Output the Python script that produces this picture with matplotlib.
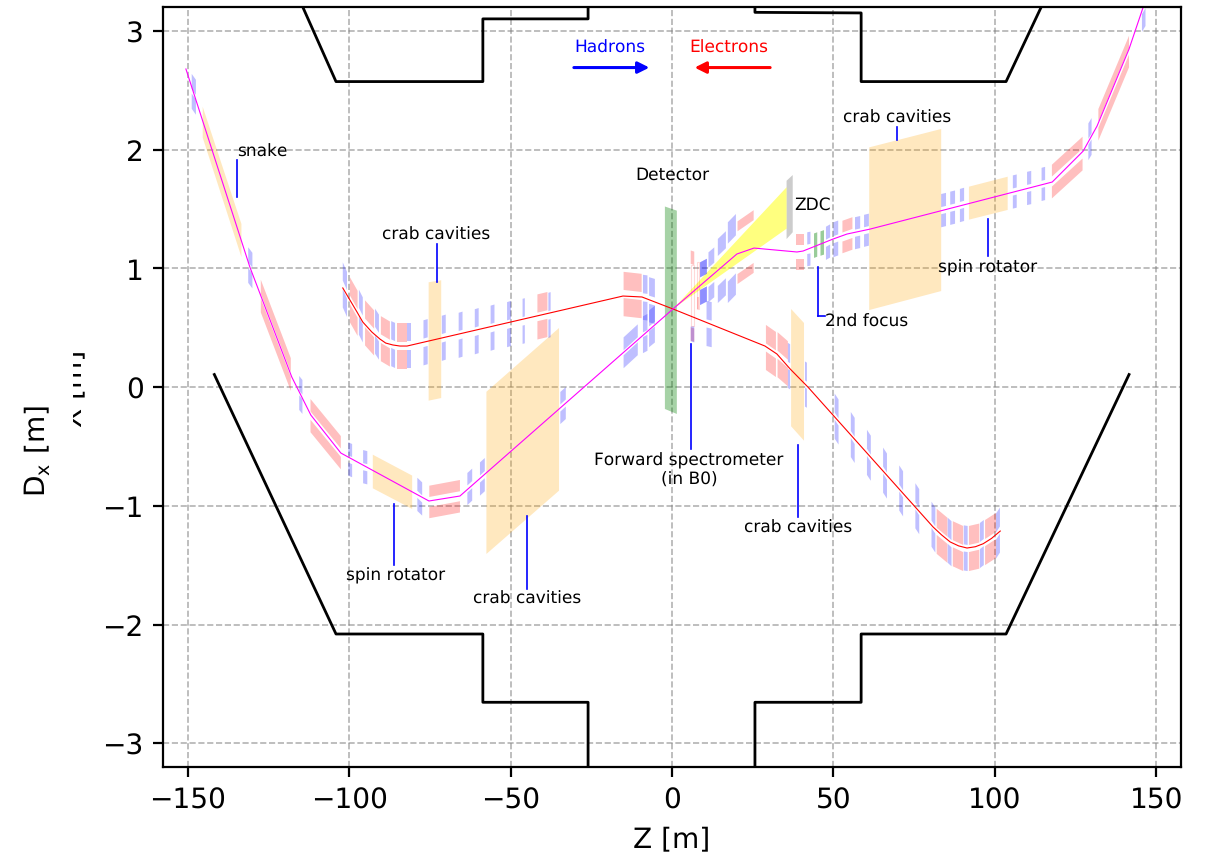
import numpy as np
import matplotlib
matplotlib.use('Agg')
import matplotlib.pyplot as plt
from matplotlib.transforms import Bbox

plt.rcParams['text.hinting'] = 'no_hinting'
plt.rcParams['text.hinting_factor'] = 1

# tunnel walls
wall_bl_z = [-141.8, -104.1, -58.6, -58.6, -26, -26]
wall_bl_x = [0.105, -2.08, -2.08, -2.655, -2.655, -3.2]
wall_br_z = [141.6, 103.5, 58.6, 58.6, 25.7, 25.7]
wall_br_x = [0.105, -2.08, -2.08, -2.655, -2.655, -3.2]
wall_tl_z = [-114.4, -104.1, -58.6, -58.6, -26, -26]
wall_tl_x = [3.2, 2.572, 2.572, 3.1, 3.1, 3.2]
wall_tr_z = [114.4, 103.5, 58.6, 58.6, 25.7, 25.7]
wall_tr_x = [3.2, 2.572, 2.572, 3.15, 3.155, 3.2]

# beam lines
hadron_z = [-150.6, -130.8, -117.8, -111.9, -102.6, -75.3, -65.7, 0.3, 20.1, 25.4, 38.7, 40.6,
            49.9, 54.2, 61.4, 117.8, 127.4, 131.7, 141.6, 146]
hadron_x = [2.678, 1.011, 0.084, -0.236, -0.556, -0.96, -0.918, 0.657, 1.12, 1.17, 1.137, 1.145,
            1.246, 1.288, 1.33, 1.726, 1.987, 2.198, 2.846, 3.2]
electron_z = [-102, -99.8, -97.6, -95.8, -93, -90.5, -88.7, -86.5, -84.3, -82.1, -15.2, -9.3, 0.3,
              28.8, 32.5, 36.6, 42.1, 75.9, 80.9, 83.5, 86.2, 88.8, 91.4, 94, 96.4, 99, 101.7]
electron_x = [0.834, 0.733, 0.632, 0.547, 0.463, 0.404, 0.37, 0.354, 0.345, 0.345, 0.766, 0.758, 0.657,
              0.345, 0.278, 0.152, 0, -1.027, -1.179, -1.245, -1.305, -1.338, -1.356, -1.345, -1.32,
              -1.275, -1.213]

# magnets: z start, z end, centre at start, centre at end, outer half width, half gap
blue_magnets = [
    # electron side, left arc
    (-102, -100.7, 0.86, 0.78, 0.19, 0.036), (-97, -95.8, 0.63, 0.565, 0.19, 0.036),
    (-92, -90.8, 0.47, 0.42, 0.19, 0.036), (-87, -85.8, 0.365, 0.35, 0.19, 0.036),
    (-82, -80.8, 0.348, 0.348, 0.19, 0.036), (-77, -75.7, 0.372, 0.382, 0.19, 0.036),
    (-71.3, -70.1, 0.41, 0.42, 0.19, 0.036), (-66.1, -64.9, 0.435, 0.445, 0.19, 0.036),
    (-61.1, -59.9, 0.465, 0.475, 0.19, 0.036), (-56.2, -55, 0.495, 0.505, 0.19, 0.036),
    (-51.1, -49.9, 0.525, 0.535, 0.19, 0.036), (-46.3, -45.6, 0.553, 0.558, 0.19, 0.036),
    (-38.3, -37.6, 0.603, 0.609, 0.19, 0.036),
    # electron side, near the detector
    (-9, -7.6, 0.755, 0.75, 0.19, 0.034), (-7.1, -5.3, 0.735, 0.72, 0.19, 0.034),
    (35.9, 36.6, 0.182, 0.17, 0.19, 0.03), (41.2, 41.8, 0.025, 0.015, 0.19, 0.03),
    # electron side, right arc
    (50.4, 51.6, -0.245, -0.295, 0.19, 0.03), (55.4, 56.6, -0.4, -0.45, 0.19, 0.03),
    (60.4, 61.6, -0.55, -0.6, 0.19, 0.03), (65.4, 66.6, -0.7, -0.75, 0.19, 0.03),
    (70.4, 71.6, -0.85, -0.9, 0.19, 0.03), (75.4, 76.6, -1.0, -1.05, 0.19, 0.03),
    (80.4, 81.6, -1.155, -1.205, 0.19, 0.03), (85.4, 86.6, -1.29, -1.32, 0.19, 0.03),
    (90.4, 91.6, -1.355, -1.36, 0.19, 0.03), (95.4, 96.6, -1.335, -1.31, 0.19, 0.03),
    (100.4, 101.6, -1.255, -1.205, 0.19, 0.03),
    # hadron side, left
    (-148.8, -147.5, 2.49, 2.44, 0.147, 0.02), (-131.3, -130, 1.027, 0.98, 0.15, 0.025),
    (-115.5, -114.5, -0.05, -0.084, 0.143, 0.02), (-100.3, -99.1, -0.606, -0.62, 0.14, 0.03),
    (-95.7, -94.4, -0.671, -0.68, 0.14, 0.03), (-78.9, -77.4, -0.904, -0.943, 0.14, 0.03),
    (-63.4, -61.9, -0.859, -0.822, 0.135, 0.03), (-59.5, -58, -0.775, -0.738, 0.14, 0.03),
    (-34.6, -32.9, -0.177, -0.135, 0.135, 0.03),
    # hadron side, near the detector
    (-15, -10.6, 0.288, 0.398, 0.13, 0.021), (-9, -7.6, 0.44, 0.46, 0.155, 0.02),
    (-7.1, -5.3, 0.49, 0.53, 0.155, 0.02),
    (8.7, 10.8, 0.87, 0.9, 0.18, 0.053), (8.7, 10.8, 0.87, 0.9, 0.18, 0.053),
    (11.3, 13.1, 0.924, 0.966, 0.21, 0.081), (14.2, 16.7, 0.977, 1.042, 0.27, 0.126),
    (17.3, 19.8, 1.047, 1.117, 0.34, 0.16),
    (10.7, 12.3, 0.535, 0.525, 0.19, 0.034),
    # hadron side, right
    (41.9, 42.9, 1.16, 1.165, 0.143, 0.04), (47.7, 49, 1.21, 1.23, 0.14, 0.03),
    (50, 51.5, 1.24, 1.255, 0.147, 0.03), (56.7, 58.3, 1.295, 1.305, 0.135, 0.03),
    (59.5, 61, 1.315, 1.325, 0.135, 0.03), (83.4, 84.9, 1.485, 1.495, 0.14, 0.03),
    (86.2, 87.7, 1.505, 1.515, 0.14, 0.03), (89.2, 90.5, 1.528, 1.538, 0.14, 0.03),
    (105.6, 106.8, 1.642, 1.65, 0.14, 0.03), (110, 111.3, 1.672, 1.68, 0.14, 0.03),
    (114.5, 115.6, 1.706, 1.714, 0.14, 0.03), (129, 130, 2.065, 2.11, 0.155, 0.025),
    (145.6, 146.7, 3.16, 3.21, 0.17, 0.02),
]
red_magnets = [
    # electron side
    (-99.8, -97.4, 0.735, 0.62, 0.19, 0.036), (-95.1, -92.3, 0.54, 0.455, 0.19, 0.036),
    (-90.2, -87.4, 0.407, 0.362, 0.19, 0.036), (-85.3, -82.2, 0.345, 0.345, 0.19, 0.036),
    (-41.7, -38.6, 0.59, 0.61, 0.19, 0.036), (-15, -9.4, 0.783, 0.766, 0.187, 0.034),
    (29.1, 32.2, 0.333, 0.274, 0.19, 0.034), (32.7, 35.9, 0.272, 0.196, 0.19, 0.034),
    (82, 85.3, -1.215, -1.29, 0.19, 0.03), (87, 90.2, -1.32, -1.36, 0.19, 0.03),
    (92, 95.2, -1.36, -1.34, 0.19, 0.03), (97, 100.4, -1.31, -1.25, 0.19, 0.03),
    # hadron side
    (-127.4, -118.1, 0.766, 0.105, 0.138, 0.02), (-112, -102.6, -0.241, -0.553, 0.14, 0.035),
    (-75.2, -65.7, -0.968, -0.92, 0.137, 0.042), (20.3, 25.3, 1.131, 1.225, 0.264, 0.18),
    (38.3, 41, 1.137, 1.137, 0.152, 0.055), (52.8, 55.9, 1.263, 1.293, 0.137, 0.038),
    (117.7, 127.2, 1.73, 1.966, 0.142, 0.042), (132.1, 141.6, 2.208, 2.825, 0.133, 0.025),
    (5.8, 6.9, 0.77, 0.76, 0.38, 0.267),
]
green_magnets = [(44, 45, 1.19, 1.2, 0.103, 0), (46, 47.1, 1.208, 1.218, 0.103, 0)]

# B0 pieces
b0_blue_z = [5.8, 6.9, 6.9, 5.8]
b0_blue_x = [0.51, 0.51, 0.375, 0.385]
b0_frame_x = [1.03, 1.03, 0.51, 0.51]
b0_thin_z = [7.7, 8.4, 8.4, 7.7]
b0_thin_x = [1.05, 1.05, 0.657, 0.657]
b0_pink_x = [0.758, 0.758, 0.657, 0.657]

# crab cavities and spin rotators
orange_z = [[-145.4, -133.4, -133.4, -145.4], [-92.7, -80.5, -80.5, -92.7],
            [-57.5, -35, -35, -57.5], [-75.4, -71.5, -71.5, -75.4],
            [36.9, 40.9, 40.9, 36.9], [61.1, 83.4, 83.4, 61.1], [92, 104, 104, 92]]
orange_x = [[2.36, 1.373, 1.094, 2.1], [-0.57, -0.746, -1.027, -0.853],
            [-0.04, 0.497, -0.873, -1.406], [0.882, 0.899, -0.093, -0.115],
            [0.657, 0.539, -0.452, -0.331], [2.018, 2.173, 0.808, 0.648],
            [1.687, 1.771, 1.491, 1.409]]

detector_z = [-2.2, 1.5, 1.5, -2.2]
detector_x = [1.52, 1.485, -0.227, -0.185]
zdc_z = [35.5, 37.4, 37.4, 35.5]
zdc_x = [1.737, 1.785, 1.303, 1.246]
neutron_z = [0.3, 35.5, 35.5]
neutron_x = [0.657, 1.682, 1.333]

# labels: text, z, x
labels = [('snake', -134.8, 1.946), ('crab cavities', -89.9, 1.247), ('Detector', -11.5, 1.752),
          ('ZDC', 37.8, 1.499), ('crab cavities', 53, 2.232), ('spin rotator', 82.4, 0.977),
          ('2nd focus', 47.4, 0.514), ('crab cavities', 22.3, -1.221),
          ('spin rotator', -101, -1.625), ('crab cavities', -61.7, -1.818)]
# leader lines: z, x from, x to
leaders = [(-134.8, 1.912, 1.603), (-72.8, 1.204, 0.884), (69.7, 2.19, 2.08),
           (97.9, 1.415, 1.103), (45.3, 1.008, 0.6), (5.9, 0.362, -0.522),
           (39, -0.488, -1.095), (-86.2, -0.985, -1.5), (-44.9, -1.086, -1.7)]


def draw_magnet(ax, m, color, alpha=0.25):
    z0, z1, c0, c1, h, g = m
    for s in (1, -1):
        ax.fill([z0, z1, z1, z0], [c0 + s * g, c1 + s * g, c1 + s * h, c0 + s * h],
                color=color, alpha=alpha, lw=0)


fig = plt.figure(figsize=(6.045, 4.27), dpi=200)
ax = fig.add_axes([163 / 1209, 1 - 768 / 854, (1181 - 163) / 1209, 760 / 854])

for z, x in zip(orange_z, orange_x):
    ax.fill(z, x, color='orange', alpha=0.25, lw=0)
ax.fill(detector_z, detector_x, color='green', alpha=0.35, lw=0)
ax.fill(zdc_z, zdc_x, color='gray', alpha=0.4, lw=0)
ax.fill(neutron_z, neutron_x, color='yellow', alpha=0.5, lw=0)

for m in blue_magnets:
    draw_magnet(ax, m, 'blue')
for m in red_magnets:
    draw_magnet(ax, m, 'red')
for m in green_magnets:
    draw_magnet(ax, m, 'green', alpha=0.4)
ax.fill(b0_blue_z, b0_blue_x, color='blue', alpha=0.25, lw=0)
ax.fill(b0_blue_z, b0_frame_x, facecolor='none', edgecolor='red', alpha=0.15, lw=0.4)
ax.fill(b0_thin_z, b0_thin_x, facecolor='none', edgecolor='red', alpha=0.15, lw=0.4)
ax.fill(b0_thin_z, b0_pink_x, color='red', alpha=0.2, lw=0)

for z, x in [(wall_bl_z, wall_bl_x), (wall_br_z, wall_br_x), (wall_tl_z, wall_tl_x), (wall_tr_z, wall_tr_x)]:
    ax.plot(z, x, color='k', lw=1)

ax.plot(electron_z, electron_x, color='r', lw=0.4)
ax.plot(hadron_z, hadron_x, color='magenta', lw=0.4)

for z, x0, x1 in leaders:
    ax.plot([z, z], [x0, x1], color='b', lw=0.6)
ax.plot([45.3, 47.4], [0.6, 0.6], color='b', lw=0.6)

for t, z, x in labels:
    ax.text(z, x, t, fontsize=6, ha='left', va='baseline')
ax.text(5.3, -0.54, 'Forward spectrometer\n(in B0)', fontsize=6, ha='center', va='top', linespacing=1.25)

ax.text(-30.2, 2.822, 'Hadrons', fontsize=6, color='b', ha='left', va='baseline')
ax.text(5.4, 2.822, 'Electrons', fontsize=6, color='r', ha='left', va='baseline')
ax.annotate('', xy=(-7, 2.69), xytext=(-30.4, 2.69),
            arrowprops=dict(arrowstyle='-|>', color='b', lw=1.1, mutation_scale=8.5, shrinkA=0, shrinkB=0))
ax.annotate('', xy=(7, 2.69), xytext=(30.4, 2.69),
            arrowprops=dict(arrowstyle='-|>', color='r', lw=1.1, mutation_scale=8.5, shrinkA=0, shrinkB=0))

ax.set_xlim(-157.7, 157.7)
ax.set_ylim(-3.2, 3.2)
ax.set_xlabel('Z [m]', fontsize=10)
ax.grid(True, ls='--', color='gray', alpha=0.6, lw=0.6)
ax.set_axisbelow(True)

# second y label is cut off on its left side in the original
hidden = fig.text(87.5 / 1209, 1 - 388 / 854, 'X [m]', rotation=90, fontsize=10, ha='right', va='center')
hidden.set_clip_on(True)
hidden.set_clip_box(Bbox([[72.5, 0], [120, 854]]))
fig.text(37 / 1209, 1 - 451 / 854, r'D$_\mathrm{x}$ [m]', rotation=90, fontsize=10, ha='center', va='center')

plt.savefig('out.png', dpi=200)
